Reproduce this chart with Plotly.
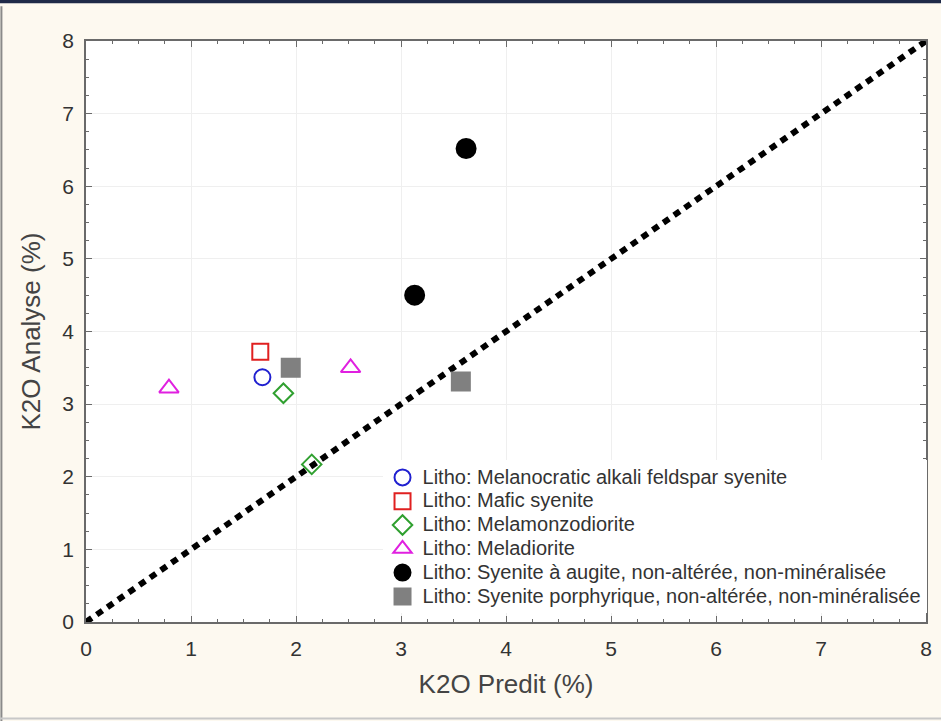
import plotly.graph_objects as go

# Data
blue_x = [1.68]; blue_y = [3.37]
red_x = [1.66]; red_y = [3.72]
green_x = [1.88, 2.15]; green_y = [3.15, 2.17]
mag_x = [0.79, 2.52]; mag_y = [3.22, 3.50]
black_x = [3.62, 3.13]; black_y = [6.52, 4.50]
gray_x = [1.95, 3.57]; gray_y = [3.50, 3.31]
line_x = [0, 8]; line_y = [0, 8]

names = [
    "Litho: Melanocratic alkali feldspar syenite",
    "Litho: Mafic syenite",
    "Litho: Melamonzodiorite",
    "Litho: Meladiorite",
    "Litho: Syenite à augite, non-altérée, non-minéralisée",
    "Litho: Syenite porphyrique, non-altérée, non-minéralisée",
]

fig = go.Figure()
fig.add_trace(go.Scatter(x=line_x, y=line_y, mode="lines", showlegend=False,
                         line=dict(color="black", width=6, dash="7px,6px"), hoverinfo="skip"))

series = [
    (blue_x, blue_y, "circle-open", "#2020d0", 16),
    (red_x, red_y, "square-open", "#e02020", 16),
    (green_x, green_y, "diamond-open", "#30a030", 15),
    (mag_x, mag_y, "triangle-up-open", "#e020e0", 17),
    (black_x, black_y, "circle", "black", 19),
    (gray_x, gray_y, "square", "#808080", 18),
]
for (xs, ys, sym, col, sz), nm in zip(series, names):
    fig.add_trace(go.Scatter(
        x=xs, y=ys, mode="markers",
        name='<span style="font-size:20px">' + nm + '</span>',
        marker=dict(symbol=sym, color=col, size=sz, line=dict(color=col, width=2)),
    ))

axis_common = dict(
    range=[0, 8], dtick=1, showgrid=True, gridcolor="#efefef", gridwidth=1,
    showline=True, linecolor="#6a6a6a", linewidth=1.5, mirror="ticks",
    ticks="inside", ticklen=6, tickcolor="#6a6a6a",
    minor=dict(ticks="inside", ticklen=3, tickcolor="#6a6a6a", dtick=0.25, showgrid=False),
    tickfont=dict(family="Liberation Sans, Arial", size=21, color="#333"),
    zeroline=False,
)

fig.update_layout(
    width=941, height=721,
    margin=dict(l=86, r=9, t=41, b=99),
    paper_bgcolor="#fdf9f0", plot_bgcolor="white",
    font=dict(family="Liberation Sans, Arial", color="#333"),
    xaxis=dict(**axis_common, ticklabelstandoff=7,
               title=dict(text="K2O Predit (%)", font=dict(size=26, color="#444"), standoff=16)),
    yaxis=dict(**axis_common, ticklabelstandoff=6,
               title=dict(text="K2O Analyse (%)", font=dict(size=26, color="#444"), standoff=14)),
    legend=dict(x=0.353, y=0.278, xanchor="left", yanchor="top",
                bgcolor="white", borderwidth=0,
                font=dict(size=16, color="#333"), itemwidth=30, tracegroupgap=0),
    shapes=[
        dict(type="rect", xref="paper", yref="paper", x0=-0.2, x1=1.2, y0=1.065, y1=1.1,
             fillcolor="#1f2a48", line=dict(width=0), layer="below"),
        dict(type="line", xref="paper", yref="paper", x0=-0.1007, x1=-0.1007, y0=-0.2, y1=1.06,
             line=dict(color="#8a8a8a", width=2)),
        dict(type="line", xref="paper", yref="paper", x0=-0.11, x1=1.02, y0=-0.166, y1=-0.166,
             line=dict(color="#c8c8c8", width=2)),
    ],
)

fig.write_html("out.html")
